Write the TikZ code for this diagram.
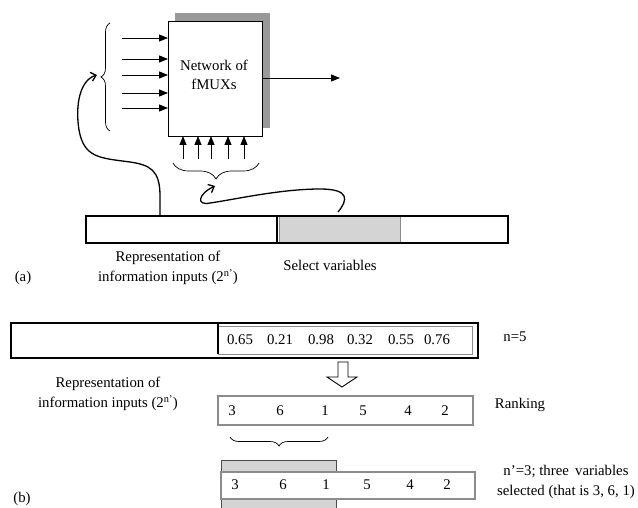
\documentclass[tikz,border=0pt]{standalone}
\usepackage{fontspec}
\setmainfont{Liberation Serif}
\usetikzlibrary{arrows.meta,decorations.pathreplacing}
\definecolor{shadowgray}{HTML}{999999}
\definecolor{lightfill}{HTML}{D4D4D4}
\definecolor{edgegray}{HTML}{8C8C8C}
\begin{document}
\begin{tikzpicture}[x=1pt,y=-1pt,
  every node/.style={font=\fontsize{14.8}{19.5}\selectfont, inner sep=0pt, outer sep=0pt},
  lbl/.style={align=center},
  boxnw/.style={anchor=north west},
  inarrow/.style={-{Triangle[length=9pt,width=7pt]}, line width=0.8pt},
  curvearrow/.style={-{Straight Barb[length=5pt,width=9pt]}, line width=1.3pt},
  bracestyle/.style={decorate, decoration={brace, amplitude=#1}, line width=0.7pt},
]
\useasboundingbox (0,0) rectangle (638,508);

% ---------------- (a) ----------------
\node (shadow) [boxnw, fill=shadowgray, minimum width=95pt, minimum height=115pt] at (175,13) {};
\node (box) [boxnw, draw, fill=white, line width=0.9pt, minimum width=94pt, minimum height=115pt] at (168,21) {};
\node (boxtxt) [lbl] at (214,75) {Network of\\fMUXs};

\foreach \yy [count=\i] in {38,59,75,93,108} {
  \coordinate (in\i) at (122,\yy);
  \draw[inarrow] (in\i) -- (in\i -| box.west);
}
\foreach \xx [count=\i] in {183,198,211,228,244} {
  \coordinate (up\i) at (\xx,159);
  \draw[inarrow] (up\i) -- (up\i |- box.south);
}
\coordinate (out) at (340,78);
\draw[inarrow] (box.east |- out) -- (out);

\draw[bracestyle=9pt] (110,131) -- (110,23);
\draw[bracestyle=16pt] (259,163) -- (173,163);
\coordinate (lbtip) at (97,75);
\coordinate (bbtip) at (215,186);

\node (selA) [boxnw, draw=edgegray, fill=lightfill, line width=0.8pt, minimum width=121pt, minimum height=26pt] at (279,216.5) {};
\node (barA) [boxnw, draw, line width=1.4pt, minimum width=422pt, minimum height=27pt] at (86,216) {};
\coordinate (divA) at (276.5,0);
\draw[line width=2pt] (divA |- barA.north) -- (divA |- barA.south);

\coordinate (c1s) at (160,216);
\coordinate (c2s) at (338,212);
\draw[curvearrow] (c1s) -- (160,196) .. controls (160,170) and (150,165) .. (130,162)
   .. controls (100,158) and (84,158) .. (79,130)
   .. controls (75,105) and (80,80) .. (lbtip);
\draw[curvearrow] (c2s) .. controls (348,200) and (350,189) .. (320,189)
   .. controls (280,189) and (232,200) .. (210,203)
   .. controls (196,206) and (198,194) .. (bbtip);

\node (repA) [lbl] at (168,268) {Representation of\\information inputs (2\textsuperscript{n’})};
\node (selAlbl) at (330,265) {Select variables};
\node (labA) at (23,278) {(a)};

% ---------------- (b) ----------------
\node (barB) [boxnw, draw, line width=1.8pt, minimum width=467pt, minimum height=35pt] at (11,323) {};
\node (valbox) [boxnw, draw=edgegray, line width=1pt, minimum width=254pt, minimum height=28pt] at (218,326) {};
\draw[line width=2pt] (valbox.west |- barB.north) -- (valbox.south west);
\foreach \v/\xx in {0.65/240,0.21/280,0.98/321,0.32/360,0.55/401,0.76/437} {
  \node (v\xx) at (\xx,340) {\v};
}
\node (nfive) at (515,337) {n=5};

\draw[line width=0.9pt, fill=white] (338,362) -- (348,362) -- (348,377) -- (357,377) -- (342,387) -- (327,377) -- (338,377) -- cycle;

\node (rank) [boxnw, draw=edgegray, line width=1.2pt, minimum width=255pt, minimum height=29pt] at (218,396) {};
\foreach \v/\xx in {3/232,6/280,1/325,5/363,4/408,2/445} {
  \node (r\xx) at (\xx,411) {\v};
}
\node (ranklbl) at (520,405) {Ranking};
\node (repB) [lbl] at (108,394) {Representation of\\information inputs (2\textsuperscript{n’})};

\draw[bracestyle=9pt] (328,437) -- (230,437);

\node (selB) [boxnw, draw=black!70, fill=lightfill, line width=0.8pt, minimum width=115pt, minimum height=60pt] at (221,460) {};
\node (final) [boxnw, draw=edgegray, fill=white, line width=1.2pt, minimum width=254pt, minimum height=27pt] at (221,472) {};
\foreach \v/\xx in {3/235,6/283,1/326,5/367,4/410,2/447} {
  \node (f\xx) at (\xx,485) {\v};
}
\node (nprime) [lbl] at (566,482) {n’=3; three\, variables\\selected (that is 3, 6, 1)};
\node (labB) at (22,499) {(b)};
\end{tikzpicture}
\end{document}
